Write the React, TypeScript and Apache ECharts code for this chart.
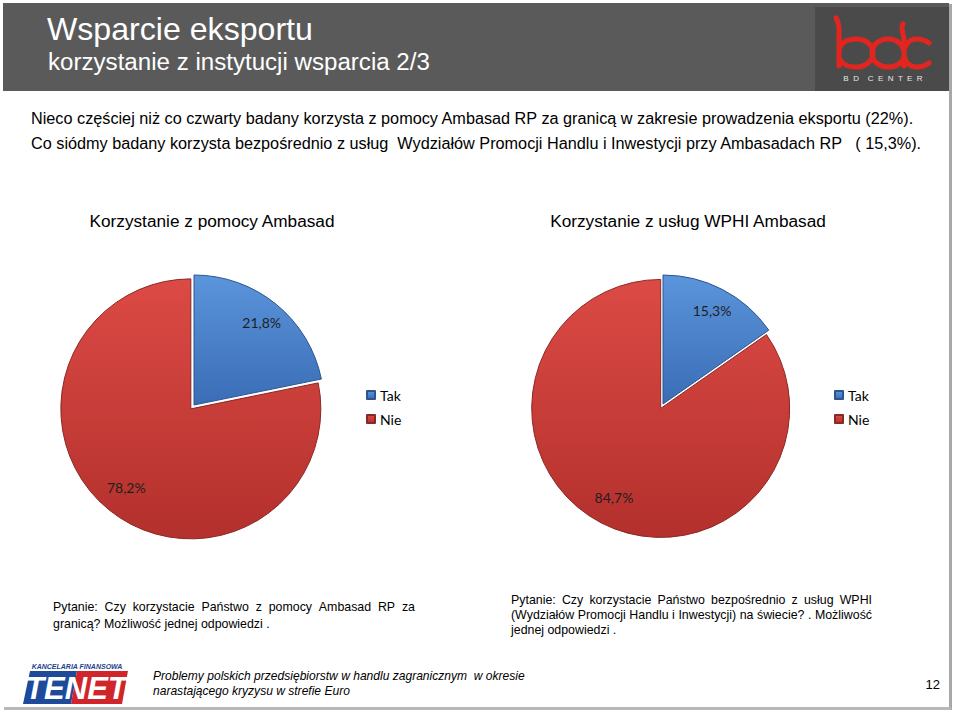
import React, { useEffect, useRef } from "react";
import * as echarts from "echarts";

// ---------- data ----------
const categories = ["Tak", "Nie"];
const ambasadValues = [21.8, 78.2];
const wphiValues = [15.3, 84.7];
const chartTitles = ["Korzystanie z pomocy Ambasad", "Korzystanie z usług WPHI Ambasad"];
const headerTitle = "Wsparcie eksportu";
const headerSubtitle = "korzystanie z instytucji wsparcia 2/3";
const introLines = [
  "Nieco częściej niż co czwarty badany korzysta z pomocy Ambasad RP za granicą w zakresie prowadzenia eksportu (22%).",
  "Co siódmy badany korzysta bezpośrednio z usług  Wydziałów Promocji Handlu i Inwestycji przy Ambasadach RP   ( 15,3%).",
];
const questionLeft = [
  "Pytanie: Czy korzystacie Państwo z pomocy Ambasad RP za",
  "granicą? Możliwość jednej odpowiedzi .",
];
const questionRight = [
  "Pytanie: Czy korzystacie Państwo bezpośrednio z usług WPHI",
  "(Wydziałów Promocji Handlu i Inwestycji) na świecie? . Możliwość",
  "jednej odpowiedzi .",
];
const footerLines = [
  "Problemy polskich przedsiębiorstw w handlu zagranicznym  w okresie",
  "narastającego kryzysu w strefie Euro",
];
const pageNumber = "12";

// ---------- logo shape ----------
const BDC_PATH =
  "M836 18 C840 24 839 30 839 36 L839 66 " +
  "M839 52 C839 43 847 39 856 39 C866 39 873 45 873 53 C873 61 866 67 856 67 C847 67 839 63 839 55 " +
  "M903 24 C900 29 904 34 904 40 L904 66 " +
  "M904 53 C904 45 897 39 888 39 C879 39 872 45 872 53 C872 61 879 67 888 67 C897 67 904 62 904 55 " +
  "M929 43 C925 40 921 39 917 39 C909 39 904 45 904 53 C904 61 909 67 917 67 C921 67 925 66 929 63";
let registered = false;
function registerShapes() {
  if (registered) return;
  registered = true;
  echarts.graphic.registerShape("bdcLogo", echarts.graphic.extendPath(BDC_PATH, {}));
}

// ---------- text helpers ----------
let measureCtx: CanvasRenderingContext2D | null = null;
function measure(text: string, size: number, family: string, style = "normal", weight = "normal") {
  if (!measureCtx) measureCtx = document.createElement("canvas").getContext("2d");
  if (!measureCtx) return text.length * size * 0.5;
  measureCtx.font = `${style} ${weight} ${size}px ${family}`;
  return measureCtx.measureText(text).width;
}
function fitSize(text: string, target: number, base: number, family: string, style = "normal", weight = "normal") {
  const w = measure(text, base, family, style, weight);
  if (!w) return base;
  const s = (base * target) / w;
  return Math.max(base * 0.85, Math.min(base * 1.15, s));
}
const ARIAL = "'Liberation Sans', Arial, sans-serif";
const CALIBRI = "Lato, 'Open Sans', sans-serif";

function textEl(text: string, x: number, y: number, size: number, opts: any = {}) {
  return {
    type: "text",
    x,
    y,
    silent: true,
    style: {
      text,
      fontSize: size,
      fontFamily: opts.family || ARIAL,
      fontStyle: opts.fontStyle || "normal",
      fontWeight: opts.fontWeight || "normal",
      fill: opts.fill || "#000",
      align: opts.align || "left",
      verticalAlign: "middle",
    },
  };
}
function justified(text: string, x0: number, x1: number, y: number, size: number, family = ARIAL) {
  const words = text.split(/\s+/).filter((w) => w.length);
  const widths = words.map((w) => measure(w, size, family));
  const total = widths.reduce((a, b) => a + b, 0);
  const gap = words.length > 1 ? (x1 - x0 - total) / (words.length - 1) : 0;
  let x = x0;
  return words.map((w, i) => {
    const el = textEl(w, x, y, size, { family });
    x += widths[i] + gap;
    return el;
  });
}

const pct = (v: number) => v.toFixed(1).replace(".", ",") + "%";

const redGrad = () =>
  new echarts.graphic.LinearGradient(0, 0, 0, 1, [
    { offset: 0, color: "#dc4a45" },
    { offset: 1, color: "#b3302c" },
  ]);
const blueGrad = () =>
  new echarts.graphic.LinearGradient(0, 0, 0, 1, [
    { offset: 0, color: "#5b95dc" },
    { offset: 1, color: "#3a6db5" },
  ]);

function pieData(values: number[], selectRed: boolean) {
  return categories.map((name, i) => ({
    name,
    value: values[i],
    selected: selectRed && i === 1,
    itemStyle:
      i === 0
        ? { color: blueGrad(), borderColor: "#2c5590", borderWidth: 1 }
        : { color: redGrad(), borderColor: "#8a2825", borderWidth: 1 },
  }));
}

function pieSeries(values: number[], center: number[], r: number) {
  return [
    {
      type: "pie",
      center,
      radius: [0, r],
      startAngle: 90,
      clockwise: true,
      selectedMode: "single",
      selectedOffset: 5,
      avoidLabelOverlap: false,
      label: { show: false },
      labelLine: { show: false },
      emphasis: { disabled: true },
      data: pieData(values, true),
    },
    {
      type: "pie",
      center,
      radius: [Math.round(r * 0.6), r],
      startAngle: 90,
      clockwise: true,
      silent: true,
      avoidLabelOverlap: false,
      legendHoverLink: false,
      emphasis: { disabled: true },
      itemStyle: { color: "rgba(0,0,0,0)", borderWidth: 0 },
      labelLine: { show: false },
      label: {
        show: true,
        position: "inside",
        fontFamily: CALIBRI,
        fontSize: 14,
        color: "#1f1f1f",
        formatter: (p: any) => pct(p.value),
      },
      data: categories.map((name, i) => ({ name, value: values[i], itemStyle: { color: "rgba(0,0,0,0)" } })),
    },
  ];
}

function legend(left: number) {
  return {
    data: categories,
    orient: "vertical",
    left,
    top: 388,
    padding: 0,
    icon: "rect",
    itemWidth: 8,
    itemHeight: 8,
    itemGap: 10,
    selectedMode: false,
    textStyle: { fontFamily: CALIBRI, fontSize: 14, color: "#000" },
  };
}

export default function App() {
  const ref = useRef<HTMLDivElement>(null);
  useEffect(() => {
    if (!ref.current) return;
    registerShapes();
    const chart = echarts.init(ref.current, null, { renderer: "svg" });

    const titleSize = fitSize(headerTitle, 266, 30, ARIAL);
    const subSize = fitSize(headerSubtitle, 382, 23, ARIAL);
    const introSize = fitSize(introLines[0], 884, 16, ARIAL);
    const chartTitleSize = fitSize(chartTitles[0], 246, 17, ARIAL);
    const qSize = fitSize(questionLeft[1], 217, 13, ARIAL);
    const footSize = fitSize(footerLines[0], 372, 13, ARIAL, "italic");

    const graphic: any[] = [
      // slide shadow
      { type: "rect", silent: true, shape: { x: 949, y: 4, width: 3, height: 706 }, style: { fill: "#a8a8a8" } },
      { type: "rect", silent: true, shape: { x: 4, y: 707, width: 947, height: 3 }, style: { fill: "#b8b8b8" } },
      // header
      { type: "rect", silent: true, shape: { x: 3, y: 3, width: 946, height: 88 }, style: { fill: "#5a5a5a" } },
      { type: "rect", silent: true, shape: { x: 815, y: 7, width: 134, height: 84 }, style: { fill: "#4b4a4a" } },
      textEl(headerTitle, 47, 29, titleSize, { fill: "#ffffff" }),
      textEl(headerSubtitle, 48, 61, subSize, { fill: "#ffffff" }),
      {
        type: "bdcLogo",
        x: 0,
        y: 0,
        silent: true,
        style: { fill: "none", stroke: "#e2261f", lineWidth: 5, lineCap: "round", lineJoin: "round" },
      },
      textEl("B  D    C  E  N  T  E  R", 883, 78, 8, { fill: "#e8e8e8", align: "center" }),
      // intro
      textEl(introLines[0], 31, 118, introSize),
      textEl(introLines[1], 31, 143, introSize),
      // chart titles
      textEl(chartTitles[0], 212, 221, chartTitleSize, { align: "center" }),
      textEl(chartTitles[1], 688, 221, chartTitleSize, { align: "center" }),
      // questions
      ...justified(questionLeft[0], 53, 415, 607, qSize),
      textEl(questionLeft[1], 53, 624, qSize),
      ...justified(questionRight[0], 511, 872, 600, qSize),
      ...justified(questionRight[1], 511, 872, 615, qSize),
      textEl(questionRight[2], 511, 630, qSize),
      // footer logo (TENET)
      textEl("KANCELARIA FINANSOWA", 77, 666, 7, {
        fill: "#1d3f8c",
        align: "center",
        fontStyle: "italic",
        fontWeight: "bold",
      }),
      {
        type: "polygon",
        silent: true,
        shape: { points: [[30, 671], [77, 671], [71, 704], [23, 704]] },
        style: { fill: "#1e4a9c" },
      },
      {
        type: "polygon",
        silent: true,
        shape: { points: [[77, 671], [128, 671], [122, 704], [71, 704]] },
        style: { fill: "#d0262b" },
      },
      textEl("TENET", 76, 688, 31, {
        fill: "#ffffff",
        align: "center",
        fontStyle: "italic",
        fontWeight: "bold",
        family: "'Liberation Sans Narrow', 'Liberation Sans', sans-serif",
      }),
      // footer text
      textEl(footerLines[0], 153, 676, footSize, { fontStyle: "italic" }),
      textEl(footerLines[1], 153, 691, footSize, { fontStyle: "italic" }),
      textEl(pageNumber, 940, 684, 13, { align: "right" }),
    ];

    chart.setOption({
      animation: false,
      backgroundColor: "#ffffff",
      legend: [legend(366), legend(834)],
      graphic,
      series: [...pieSeries(ambasadValues, [194, 405], 130), ...pieSeries(wphiValues, [663, 404], 129)],
    });
    return () => chart.dispose();
  }, []);
  return (
    <div
      ref={ref}
      style={{ position: "absolute", left: 0, top: 0, width: 960, height: 717 }}
    />
  );
}
